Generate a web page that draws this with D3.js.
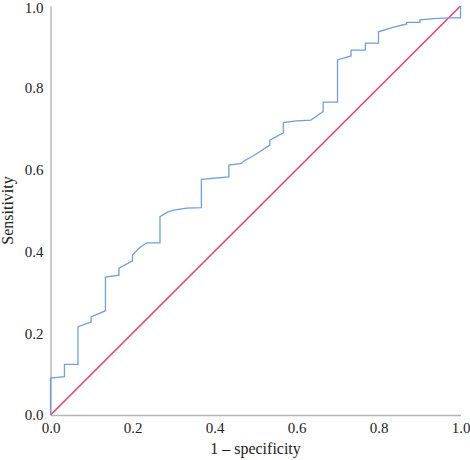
<!DOCTYPE html>
<meta charset="utf-8">
<script src="https://d3js.org/d3.v7.min.js"></script>
<style>
  body { margin: 0; background: #fff; }
  text { font-family: "Liberation Serif", "DejaVu Serif", serif; fill: #222; }
</style>
<div id="roc"></div>
<script>

// ROC curve values
var fpr = [0, 0, 0.034, 0.034, 0.067, 0.067, 0.099, 0.099, 0.134, 0.134,
           0.167, 0.167, 0.200, 0.200, 0.215, 0.235, 0.267, 0.267, 0.285, 0.300,
           0.332, 0.368, 0.368, 0.435, 0.435, 0.466, 0.470, 0.500, 0.535, 0.535,
           0.568, 0.568, 0.600, 0.635, 0.665, 0.665, 0.700, 0.700, 0.733, 0.733,
           0.768, 0.768, 0.800, 0.800, 0.835, 0.869, 0.869, 0.901, 0.901, 0.935,
           0.974, 1.0, 1.0]
var tpr = [0, 0.090, 0.094, 0.124, 0.124, 0.216, 0.227, 0.240, 0.255, 0.337,
           0.342, 0.359, 0.377, 0.391, 0.407, 0.421, 0.421, 0.485, 0.496, 0.501,
           0.506, 0.507, 0.576, 0.582, 0.611, 0.615, 0.620, 0.637, 0.660, 0.672,
           0.690, 0.715, 0.719, 0.721, 0.742, 0.765, 0.765, 0.868, 0.878, 0.892,
           0.892, 0.909, 0.909, 0.937, 0.948, 0.956, 0.960, 0.960, 0.966, 0.969,
           0.971, 0.971, 1.0]
var refLine = [0, 1]
var ticks = [0, 0.2, 0.4, 0.6, 0.8, 1.0]

var margin = {top: 6, right: 9.5, bottom: 45, left: 50.5},
    width = 470 - margin.left - margin.right,
    height = 460 - margin.top - margin.bottom;

var svg = d3.select("#roc")
  .append("svg")
  .attr("width", 470)
  .attr("height", 460)
  .append("g")
  .attr("transform", "translate(" + margin.left + "," + margin.top + ")");

var x = d3.scaleLinear().domain([0, 1]).range([0, width]);
var y = d3.scaleLinear().domain([0, 1]).range([height, 0]);

// X axis
var xAxis = svg.append("g")
  .attr("transform", "translate(0," + height + ")")
  .call(d3.axisBottom(x).tickValues(ticks).tickFormat(d3.format(".1f")).tickSize(0).tickPadding(7));
xAxis.select(".domain").attr("stroke", "#b4b4b4").attr("stroke-width", 1.5);
xAxis.selectAll("text").style("font-size", "15px").attr("fill", "#222");

// Y axis
var yAxis = svg.append("g")
  .call(d3.axisLeft(y).tickValues(ticks).tickFormat(d3.format(".1f")).tickSize(0).tickPadding(7));
yAxis.select(".domain").attr("stroke", "#aaa2aa").attr("stroke-width", 1.2);
yAxis.selectAll("text").style("font-size", "15px").attr("fill", "#222");
// keep top label inside the page
yAxis.selectAll("text").filter(d => d === 1).attr("dy", "0.32em").attr("y", 2);

// axis titles
svg.append("text")
  .attr("x", width / 2)
  .attr("y", height + 39)
  .attr("text-anchor", "middle")
  .style("font-size", "16px")
  .text("1 – specificity");

svg.append("text")
  .attr("transform", "translate(" + (-38) + "," + (height / 2) + ") rotate(-90)")
  .attr("text-anchor", "middle")
  .style("font-size", "16px")
  .text("Sensitivity");

// reference diagonal
svg.append("line")
  .attr("x1", x(refLine[0])).attr("y1", y(refLine[0]))
  .attr("x2", x(refLine[1])).attr("y2", y(refLine[1]))
  .attr("stroke", "#e8426f")
  .attr("stroke-width", 1.6);

// ROC curve
var pts = fpr.map(function(d, i) { return [d, tpr[i]]; });
svg.append("path")
  .datum(pts)
  .attr("fill", "none")
  .attr("stroke", "#6f9fdc")
  .attr("stroke-width", 1.3)
  .attr("d", d3.line().x(d => x(d[0])).y(d => y(d[1])));

</script>
